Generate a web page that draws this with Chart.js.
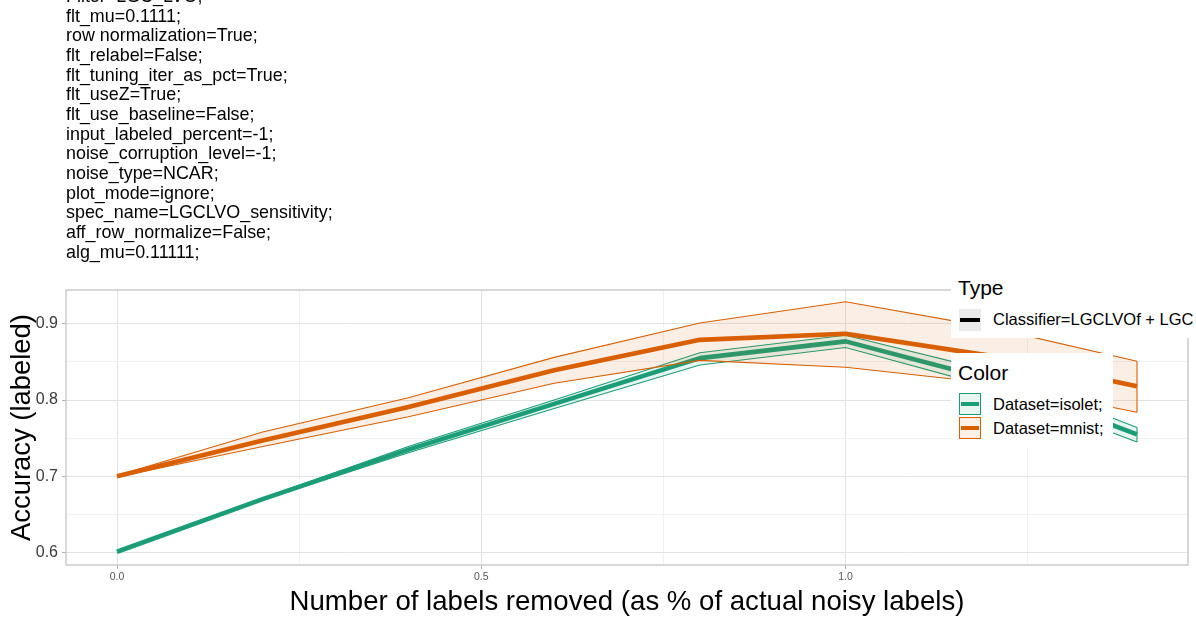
<!DOCTYPE html>
<html>
<head>
<meta charset="utf-8">
<script src="https://cdn.jsdelivr.net/npm/chart.js@4"></script>
<style>
  body { margin: 0; background: #fff; font-family: "Liberation Sans", Arial, sans-serif; }
  #wrap { position: relative; width: 1196px; height: 621px; overflow: hidden; }
  #params { position: absolute; left: 66px; top: -13px; font-size: 17.9px; line-height: 19.67px; color: #000; white-space: pre; }
  .box { position: absolute; background: #fff; }
  .lt { position: absolute; white-space: nowrap; color: #000; line-height: 1; }
  .ttl { font-size: 21px; }
  .itm { font-size: 16.5px; }
  .key { position: absolute; width: 22px; height: 22px; box-sizing: border-box; }
  .key i { position: absolute; left: 1px; right: 1px; top: 50%; height: 4px; margin-top: -2px; }
</style>
</head>
<body>
<div id="wrap">
  <canvas id="chart" width="1196" height="621"></canvas>
  <div id="params"></div>

  <div class="box" style="left:951px; top:268px; width:245px; height:70px;">
    <div class="lt ttl" style="left:7px; top:8.5px;">Type</div>
    <div class="key" style="left:8px; top:41px; background:#ebebeb;"><i style="background:#000"></i></div>
    <div class="lt itm" id="typeItem" style="left:42px; top:42.75px;"></div>
  </div>

  <div class="box" style="left:951px; top:353px; width:162px; height:95px;">
    <div class="lt ttl" style="left:7px; top:9px;">Color</div>
    <div class="key" style="left:8px; top:40px; background:#e8f5f1; border:1.3px solid #1b9e77;"><i style="background:#1b9e77"></i></div>
    <div class="lt itm" id="isoItem" style="left:42px; top:42.75px;"></div>
    <div class="key" style="left:8px; top:64px; background:#fbefe6; border:1.3px solid #d95f02;"><i style="background:#d95f02"></i></div>
    <div class="lt itm" id="mnItem" style="left:42px; top:66.75px;"></div>
  </div>
</div>
<script>
// parameter lines printed above the panel
const paramLines = [
    'Filter=LGC_LVO;',
    'flt_mu=0.1111;',
    'row normalization=True;',
    'flt_relabel=False;',
    'flt_tuning_iter_as_pct=True;',
    'flt_useZ=True;',
    'flt_use_baseline=False;',
    'input_labeled_percent=-1;',
    'noise_corruption_level=-1;',
    'noise_type=NCAR;',
    'plot_mode=ignore;',
    'spec_name=LGCLVO_sensitivity;',
    'aff_row_normalize=False;',
    'alg_mu=0.11111;'
];

const typeLabel = 'Classifier=LGCLVOf + LGC';
const seriesNames = ['Dataset=isolet;', 'Dataset=mnist;'];

// fraction of noisy labels removed
const xVals = [0, 0.2, 0.4, 0.6, 0.8, 1.0, 1.2, 1.4];

const isoletMean = [0.601, 0.670, 0.735, 0.795, 0.855, 0.877, 0.827, 0.755];
const isoletLow  = [0.600, 0.669, 0.731, 0.789, 0.846, 0.869, 0.817, 0.745];
const isoletHigh = [0.602, 0.671, 0.739, 0.800, 0.862, 0.885, 0.838, 0.764];

const mnistMean = [0.700, 0.747, 0.791, 0.839, 0.879, 0.887, 0.858, 0.818];
const mnistLow  = [0.699, 0.739, 0.778, 0.822, 0.852, 0.843, 0.822, 0.784];
const mnistHigh = [0.701, 0.758, 0.803, 0.856, 0.901, 0.929, 0.895, 0.851];

const xMajor = [0, 0.5, 1.0];
const xMinor = [0.25, 0.75, 1.25];
const yMajor = [0.6, 0.7, 0.8, 0.9];
const yMinor = [0.65, 0.75, 0.85];

const GREEN = '#1b9e77';
const ORANGE = '#d95f02';

document.getElementById('params').textContent = paramLines.join('\n');
document.getElementById('typeItem').textContent = typeLabel;
document.getElementById('isoItem').textContent = seriesNames[0];
document.getElementById('mnItem').textContent = seriesNames[1];

const pts = ys => xVals.map((x, i) => ({ x: x, y: ys[i] }));
const isIn = (arr, v) => arr.some(a => Math.abs(a - v) < 1e-6);
const last = xVals.length - 1;

function band(ys, color, fillColor, fill, order) {
    return {
        data: pts(ys), borderColor: color, borderWidth: 1.1, pointRadius: 0,
        fill: fill ? '-1' : false, backgroundColor: fillColor, order: order
    };
}

// closing edge of a ribbon at its first / last x
function bandEdge(lo, hi, i, color, order) {
    return {
        data: [{ x: xVals[i], y: lo[i] }, { x: xVals[i], y: hi[i] }],
        borderColor: color, borderWidth: 1.1, pointRadius: 0, fill: false, order: order
    };
}

function meanLine(ys, color, order) {
    return {
        data: pts(ys), borderColor: color, borderWidth: 4.6, pointRadius: 0,
        fill: false, borderJoinStyle: 'round', order: order
    };
}

// panel border, drawn over the grid
const panelBorder = {
    id: 'panelBorder',
    beforeDatasetsDraw(chart) {
        const a = chart.chartArea, c = chart.ctx;
        c.save();
        c.strokeStyle = '#c4c4c4';
        c.lineWidth = 1.3;
        c.strokeRect(a.left, a.top, a.right - a.left, a.bottom - a.top);
        c.restore();
    }
};

const gridColor = (majors) => ctx => isIn(majors, ctx.tick.value) ? '#e2e2e2' : '#f1f1f1';
const tickColor = (majors) => ctx => isIn(majors, ctx.tick.value) ? '#b3b3b3' : 'rgba(0,0,0,0)';

new Chart(document.getElementById('chart'), {
    type: 'line',
    data: {
        datasets: [
            band(isoletLow, GREEN, 'rgba(27,158,119,0.1)', false, 4),
            band(isoletHigh, GREEN, 'rgba(27,158,119,0.1)', true, 4),
            bandEdge(isoletLow, isoletHigh, last, GREEN, 4),
            meanLine(isoletMean, GREEN, 3),
            band(mnistLow, ORANGE, 'rgba(217,95,2,0.1)', false, 2),
            band(mnistHigh, ORANGE, 'rgba(217,95,2,0.1)', true, 2),
            bandEdge(mnistLow, mnistHigh, last, ORANGE, 2),
            meanLine(mnistMean, ORANGE, 1)
        ]
    },
    options: {
        responsive: false,
        animation: false,
        events: [],
        layout: { padding: { top: 290, right: 8, left: 0, bottom: 0 } },
        plugins: { legend: { display: false }, tooltip: { enabled: false } },
        elements: { line: { tension: 0 } },
        scales: {
            x: {
                type: 'linear', min: -0.07, max: 1.47,
                afterBuildTicks: s => { s.ticks = xMajor.concat(xMinor).sort((a, b) => a - b).map(v => ({ value: v })); },
                afterFit: s => { s.height = 56; },
                ticks: {
                    padding: 2, color: '#555', font: { size: 10.5 },
                    callback: v => isIn(xMajor, v) ? v.toFixed(1) : ''
                },
                grid: { color: gridColor(xMajor), lineWidth: 1, tickLength: 4, tickColor: tickColor(xMajor) },
                border: { display: false },
                title: {
                    display: true, text: 'Number of labels removed (as % of actual noisy labels)',
                    color: '#000', font: { size: 27.6 }, padding: { top: 0, bottom: 2 }
                }
            },
            y: {
                type: 'linear', min: 0.5836, max: 0.9444,
                afterBuildTicks: s => { s.ticks = yMajor.concat(yMinor).sort((a, b) => a - b).map(v => ({ value: v })); },
                afterFit: s => { s.width = 66; },
                ticks: {
                    padding: 4, color: '#3a3a3a', font: { size: 16 },
                    callback: v => isIn(yMajor, v) ? v.toFixed(1) : ''
                },
                grid: { color: gridColor(yMajor), lineWidth: 1, tickLength: 4, tickColor: tickColor(yMajor) },
                border: { display: false },
                title: {
                    display: true, text: 'Accuracy (labeled)',
                    color: '#000', font: { size: 27.4 }, padding: { top: 6, bottom: 0 }
                }
            }
        }
    },
    plugins: [panelBorder]
});
</script>
</body>
</html>
